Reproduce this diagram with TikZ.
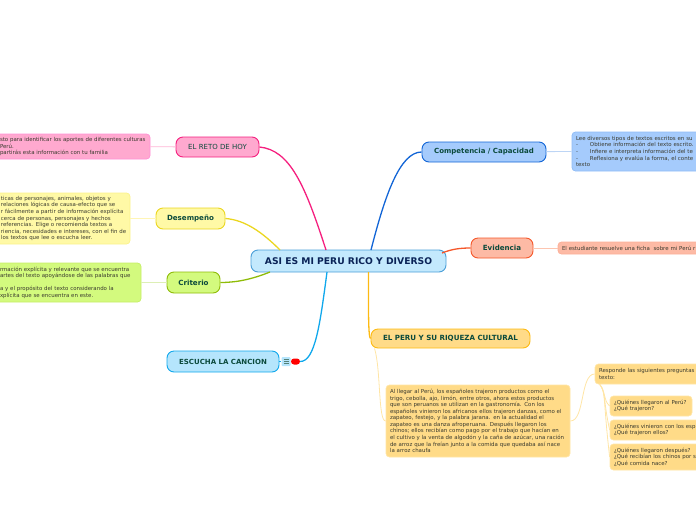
\documentclass[tikz,border=0pt]{standalone}
\usepackage{fontspec}
\setmainfont{DejaVu Sans}
\usetikzlibrary{calc,positioning}
\definecolor{darkgreen}{HTML}{0B4A3C}
\definecolor{darknavy}{HTML}{0A2357}
\definecolor{tiptext}{HTML}{3A3A2E}
\definecolor{rootfill}{HTML}{C3E9FD}
\definecolor{rootedge}{HTML}{4A9FD8}
\definecolor{pinkfill}{HTML}{FFA9CF}
\definecolor{pinkedge}{HTML}{F5207F}
\definecolor{pinkline}{HTML}{FFB5D5}
\definecolor{yellowfill}{HTML}{FFF9A6}
\definecolor{yellowedge}{HTML}{EBD620}
\definecolor{yellowline}{HTML}{FFF5B5}
\definecolor{limefill}{HTML}{D3FA7E}
\definecolor{limeedge}{HTML}{8FBC08}
\definecolor{limeline}{HTML}{DDEFB5}
\definecolor{skyfill}{HTML}{B5E5FC}
\definecolor{skyedge}{HTML}{10A8EC}
\definecolor{bluefill}{HTML}{A5CBFC}
\definecolor{blueedge}{HTML}{1265D6}
\definecolor{blueline}{HTML}{BDD5F5}
\definecolor{redfill}{HTML}{FDBAA5}
\definecolor{rededge}{HTML}{F5572A}
\definecolor{redline}{HTML}{FDC5B0}
\definecolor{goldfill}{HTML}{FFDB88}
\definecolor{goldedge}{HTML}{FDBA12}
\definecolor{goldline}{HTML}{FFE5A5}
\tikzset{
  topic/.style={draw,line width=0.9pt,rounded corners=7pt,text=darkgreen,font=\fontsize{7.1}{9}\selectfont\bfseries,inner sep=0pt},
  tip/.style={rounded corners=3.5pt,line width=0.7pt,inner ysep=0pt,inner xsep=4pt,align=left,text=tiptext,font=\fontsize{5.45}{6.55}\selectfont},
  link/.style={line width=1.3pt},
  pale/.style={line width=0.8pt}
}
\begin{document}
\begin{tikzpicture}[x=1pt,y=-1pt]
        \useasboundingbox (0,0) rectangle (696,520);
        % Root
        \node[topic,draw=rootedge,fill=rootfill,minimum width=195pt,minimum height=22pt,text=darknavy,font=\fontsize{9.2}{10}\selectfont\bfseries] (root) at (348.5,261) {ASI ES MI PERU RICO Y DIVERSO};
        % Left topics
        \node[topic,draw=pinkedge,fill=pinkfill,minimum width=83pt,minimum height=20pt,font=\fontsize{7}{9}\selectfont] (reto) at (217.5,147) {EL RETO DE HOY};
        \node[topic,draw=yellowedge,fill=yellowfill,minimum width=69pt,minimum height=21pt] (desempeno) at (190.5,218.5) {Desempeño};
        \node[topic,draw=limeedge,fill=limefill,minimum width=53pt,minimum height=21pt] (criterio) at (193.5,282.5) {Criterio};
        \node[topic,draw=skyedge,fill=skyfill,minimum width=112pt,minimum height=21pt,font=\fontsize{7}{9}\selectfont\bfseries] (escucha) at (223,361.5) {ESCUCHA LA CANCION};
        % Right topics
        \node[topic,draw=blueedge,fill=bluefill,minimum width=124pt,minimum height=20pt,font=\fontsize{7}{9}\selectfont\bfseries] (competencia) at (484,152) {Competencia / Capacidad};
        \node[topic,draw=rededge,fill=redfill,minimum width=62pt,minimum height=20pt] (evidencia) at (502,248) {Evidencia};
        \node[topic,draw=goldedge,fill=goldfill,minimum width=159pt,minimum height=19pt] (riqueza) at (450.5,338.5) {EL PERU Y SU RIQUEZA CULTURAL};
        % Left notes
        \node[tip,draw=pinkfill!85!magenta,fill=pinkfill,text width=146pt,minimum height=25pt] (retotip) at (73,146.5) {sto para identificar los aportes de diferentes culturas\\Perú.\\partirás esta información con tu familia};
        \node[tip,draw=yellowfill!80!yellowedge,fill=yellowfill,text width=125pt,minimum height=51pt] (desempenotip) at (63.5,218.5) {ticas de personajes, animales, objetos y\\ relaciones lógicas de causa-efecto que se\\r fácilmente a partir de información explícita\\cerca de personas, personajes y hechos\\referencias. Elige o recomienda textos a\\\mbox{riencia, necesidades e intereses, con el fin de}\\los textos que lee o escucha leer.};
        \node[tip,draw=limefill!80!limeedge,fill=limefill,text width=137pt,minimum height=39pt] (criteriotip) at (68.5,282.5) {rmación explícita y relevante que se encuentra\\artes del texto apoyándose de las palabras que\\[6.55pt]a y el propósito del texto considerando la\\xplícita que se encuentra en este.};
        % Right notes
        \node[tip,draw=bluefill!85!blueedge,fill=bluefill,text width=132pt,minimum height=39pt] (competenciatip) at (642,151.5) {Lee diversos tipos de textos escritos en su\\-\hspace{12pt}Obtiene información del texto escrito.\\-\hspace{12pt}Infiere e interpreta información del te\\-\hspace{12pt}Reflesiona y evalúa la forma, el conte\\texto};
        \node[tip,draw=redfill!90!rededge,fill=redfill,text width=138pt,minimum height=12pt] (evidenciatip) at (631,248) {El estudiante resuelve una ficha\ \ sobre mi Perú r};
        \node[tip,draw=goldline,fill=goldfill,text width=176pt,minimum height=72pt] (parrafo) at (478,421) {Al llegar al Perú, los españoles trajeron productos como el\\trigo, cebolla, ajo, limón, entre otros, ahora estos productos\\que son peruanos se utilizan en la gastronomía. Con los\\españoles vinieron los africanos ellos trajeron danzas, como el\\zapateo, festejo, y la palabra jarana. en la actualidad el\\zapateo es una danza afroperuana. Después llegaron los\\chinos; ellos recibían como pago por el trabajo que hacían en\\el cultivo y la venta de algodón y la caña de azúcar, una ración\\de arroz que la freían junto a la comida que quedaba así nace\\la arroz chaufa};
        \node[tip,draw=goldline,fill=goldfill,text width=107pt,minimum height=20pt] (preguntas) at (652.5,374) {Responde las siguientes preguntas\\texto:};
        \node[tip,draw=goldline,fill=goldfill,text width=74pt,minimum height=20pt] (pregunta1) at (651,406) {¿Quiénes llegaron al Perú?\\¿Qué trajeron?};
        \node[tip,draw=goldline,fill=goldfill,text width=92pt,minimum height=20pt] (pregunta2) at (660,430) {¿Quiénes vinieron con los esp\\¿Qué trajeron ellos?};
        \node[tip,draw=goldline,fill=goldfill,text width=92pt,minimum height=26pt] (pregunta3) at (660,457) {¿Quiénes llegaron después?\\¿Qué recibían los chinos por s\\¿Qué comida nace?};
        % Icons
        \node[fill=skyfill,minimum size=9pt,inner sep=0pt,rounded corners=1pt] (icono) at (286,361.5) {};
        \node[fill=red,minimum width=9pt,minimum height=6pt,inner sep=0pt,rounded corners=3pt] (alerta) at (295.5,361.5) {};
        \foreach \dy in {-2,0,2}
          \draw[darkgreen!70,line width=0.5pt] ($(icono.center)+(-2.5,\dy)$) -- ($(icono.center)+(2.5,\dy)$);
        \draw[skyedge,line width=0.7pt] (escucha) -- (icono);
        % Branches
        \coordinate (retostart) at (326,250);
        \coordinate (desempenostart) at (280,250);
        \coordinate (criteriostart) at (270,272);
        \coordinate (escuchastart) at (327,272);
        \coordinate (competenciastart) at (371,250);
        \coordinate (evidenciastart) at (442,253);
        \coordinate (riquezastart) at (368.5,272);
        \draw[link,pinkedge] (retostart) .. controls (305,185) and (290,150) .. (reto.east);
        \draw[link,yellowedge] (desempenostart) .. controls (262,232) and (245,220) .. (desempeno.east);
        \draw[link,limeedge] (criteriostart) .. controls (250,280) and (235,282.5) .. (criterio.east);
        \draw[link,skyedge] (escuchastart) .. controls (320,325) and (315,361.5) .. (alerta.east);
        \draw[link,blueedge] (competenciastart) .. controls (385,195) and (400,152) .. (competencia.west);
        \draw[link,rededge] (evidenciastart) .. controls (452,249) and (460,248) .. (evidencia.west);
        \draw[link,goldedge] (riquezastart) .. controls (368.5,300) and (368,338.5) .. (riqueza.west);
        % Note links
        \draw[pale,pinkline] (reto) -- (retotip);
        \draw[pale,yellowline] (desempeno) -- (desempenotip);
        \draw[pale,limeline] (criterio) -- (criteriotip);
        \draw[pale,blueline] (competencia) -- (competenciatip.west);
        \draw[pale,redline] (evidencia) -- (evidenciatip.west);
        \draw[pale,goldline] ($(riqueza.south west)+(4,0)$) .. controls (381,370) and (378,421) .. (parrafo.west);
        \draw[pale,goldline] (parrafo.east) .. controls (585,421) and (580,374) .. (preguntas.west);
        \foreach \q in {pregunta1,pregunta2,pregunta3}
          \draw[pale,goldline] ($(preguntas.south west)+(5,0)$) .. controls (606,392) and (603,400) .. (\q.west);
\end{tikzpicture}
\end{document}
